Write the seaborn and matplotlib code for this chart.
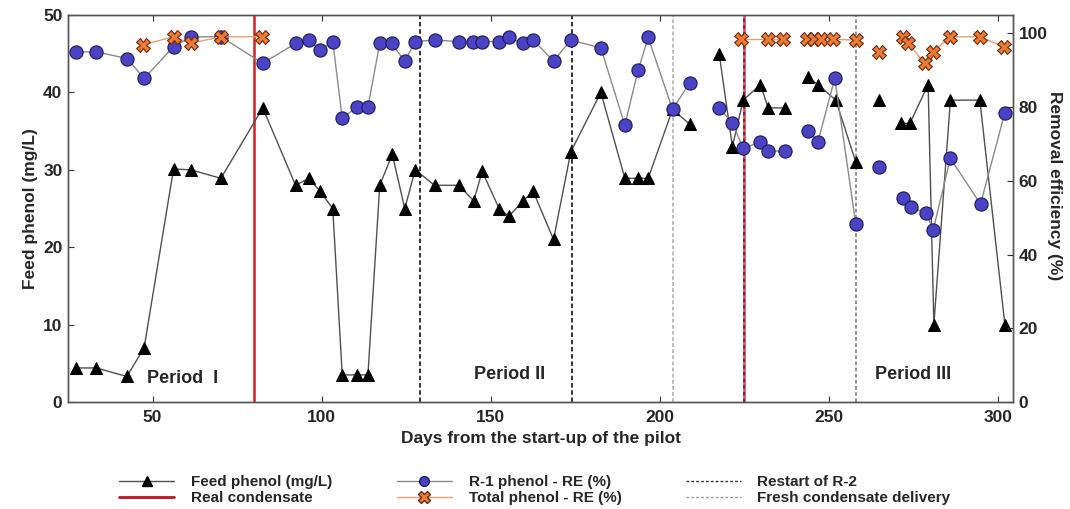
import numpy as np
import pandas as pd
import matplotlib
matplotlib.use("Agg")
import matplotlib.pyplot as plt
from matplotlib.lines import Line2D
import seaborn as sns

# ---------------- data ----------------
feed_days = [27.4, 33.3, 42.4, 47.5, 56.2, 61.3, 70.2, 82.6, 92.3, 96.2, 99.6, 103.3,
             106.1, 110.4, 113.7, 117.2, 120.9, 124.6, 127.7, 133.4, 140.5, 145.0, 147.5,
             152.5, 155.4, 159.6, 162.6, 168.6, 173.7, 182.6, 189.7, 193.6, 196.6, 203.8, 208.9,
             217.6, 221.5, 224.7, 229.8, 232.1, 237.0,
             243.9, 246.8, 252.1, 258.0,
             264.9,
             271.5, 274.0, 279.4, 281.1, 286.0, 294.7, 302.1]
feed_vals = [4.4, 4.4, 3.3, 7.0, 30.1, 30.0, 28.9, 38.0, 28.0, 28.9, 27.2, 25.0,
             3.5, 3.5, 3.5, 28.0, 32.0, 25.0, 30.0, 28.0, 28.0, 26.0, 29.8,
             25.0, 24.0, 26.0, 27.2, 21.0, 32.3, 40.0, 28.9, 28.9, 28.9, 37.8, 35.9,
             45.0, 33.0, 39.0, 41.0, 38.0, 38.0,
             42.0, 41.0, 39.0, 31.0,
             39.0,
             36.0, 36.0, 41.0, 10.0, 39.0, 39.0, 10.0]
feed_seg = [0] * 35 + [1] * 6 + [2] * 4 + [3] + [4] * 7

r1_days = [27.4, 33.3, 42.5, 47.5, 56.2, 61.3, 70.2, 82.6, 92.3, 96.2, 99.6, 103.3,
           106.1, 110.4, 113.7, 117.2, 120.7, 124.6, 127.7, 133.4, 140.5, 144.8, 147.5,
           152.5, 155.4, 159.6, 162.6, 168.6, 173.7, 182.6, 189.7, 193.6, 196.6, 203.8, 208.9,
           217.6, 221.5, 224.7, 229.8, 232.1, 237.0,
           243.9, 246.8, 251.8, 258.0,
           264.9,
           272.0, 274.2, 278.9, 280.9, 286.0, 294.9, 302.1]
r1_vals = [95.0, 95.0, 93.2, 87.8, 96.4, 99.1, 99.1, 91.9, 97.3, 98.2, 95.5, 97.8,
           77.0, 80.0, 80.0, 97.3, 97.3, 92.5, 97.8, 98.2, 97.8, 97.8, 97.8,
           97.8, 98.9, 97.3, 98.2, 92.5, 98.2, 96.1, 75.1, 90.0, 98.9, 79.4, 86.6,
           79.7, 75.8, 68.8, 70.6, 68.1, 68.1,
           73.5, 70.6, 87.8, 48.3,
           63.8,
           55.3, 52.8, 51.2, 46.7, 66.1, 53.7, 78.5]
r1_seg = [0] * 35 + [1] * 6 + [2] * 4 + [3] + [4] * 7

tot_days = [47.1, 56.2, 61.3, 70.2, 82.3,
            224.2, 231.9, 236.5,
            243.6, 245.7, 247.8, 251.3, 258.0,
            264.9,
            272.0, 273.5, 278.4, 280.9, 286.0, 294.7, 301.8]
tot_vals = [96.9, 99.1, 97.3, 99.1, 99.1,
            98.4, 98.4, 98.4,
            98.4, 98.4, 98.4, 98.4, 98.2,
            95.0,
            99.1, 97.3, 91.9, 95.0, 99.1, 99.1, 96.4]
tot_seg = [0] * 5 + [1] * 3 + [2] * 5 + [3] + [4] * 7

real_condensate_day = 80
restart_days = [129, 174]
fresh_days = [204, 258]
combined_day = 225

period_labels = ["Period  I", "Period II", "Period III"]
period_x = [59, 155.5, 275]
period_y = [3.1, 3.6, 3.6]

feed_df = pd.DataFrame({"day": feed_days, "val": feed_vals, "seg": feed_seg})
r1_df = pd.DataFrame({"day": r1_days, "val": r1_vals, "seg": r1_seg})
tot_df = pd.DataFrame({"day": tot_days, "val": tot_vals, "seg": tot_seg})

# ---------------- style ----------------
sns.set_theme(style="white")
plt.rcParams["font.family"] = ["Liberation Sans", "DejaVu Sans"]
plt.rcParams["font.weight"] = "bold"

fig = plt.figure(figsize=(10.7, 5.09), dpi=100)
ax = fig.add_axes([0.0636, 0.2102, 0.8831, 0.7603])
ax2 = ax.twinx()

blue_fill = "#4A44C4"
blue_edge = "#1C1A5A"
orange_fill = "#EE7A33"
orange_edge = "#6A2A10"

# vertical event lines
ax.axvline(real_condensate_day, color="#D42020", lw=1.8, zorder=1)
for d in restart_days:
    ax.axvline(d, color="#222222", lw=1.3, ls=(0, (2.5, 1.5)), zorder=1)
ax.axvline(fresh_days[0], color="#AAAAAA", lw=1.1, ls=(0, (2.5, 1.5)), zorder=1)
ax.axvline(fresh_days[1], color="#777777", lw=1.1, ls=(0, (2.5, 1.5)), zorder=1)
ax.axvline(combined_day, color="#E05060", lw=2.0, zorder=1)
ax.axvline(combined_day, color="#333333", lw=1.2, ls=(0, (2, 2)), zorder=1)

# feed phenol
sns.lineplot(data=feed_df, x="day", y="val", units="seg", estimator=None, sort=False,
             ax=ax, color="#505050", lw=1.0, marker="^", markersize=9,
             markerfacecolor="black", markeredgecolor="black", legend=False, zorder=3)

# R-1 RE
sns.lineplot(data=r1_df, x="day", y="val", units="seg", estimator=None, sort=False,
             ax=ax2, color="#8A8A8A", lw=1.0, marker="o", markersize=9.5,
             markerfacecolor=blue_fill, markeredgecolor=blue_edge, markeredgewidth=0.8,
             legend=False, zorder=3)

# Total RE
sns.lineplot(data=tot_df, x="day", y="val", units="seg", estimator=None, sort=False,
             ax=ax2, color="#E8A070", lw=1.0, marker="X", markersize=10,
             markerfacecolor=orange_fill, markeredgecolor=orange_edge, markeredgewidth=0.8,
             legend=False, zorder=4)

for lab, x, y in zip(period_labels, period_x, period_y):
    ax.text(x, y, lab, ha="center", va="center", fontsize=13, fontweight="bold")

# axes
ax.set_xlim(25, 304.5)
ax.set_ylim(0, 50)
ax2.set_ylim(0, 105)
ax.set_xticks([50, 100, 150, 200, 250, 300])
ax.set_yticks([0, 10, 20, 30, 40, 50])
ax2.set_yticks([0, 20, 40, 60, 80, 100])
ax.set_xlabel("Days from the start-up of the pilot", fontsize=12.5, fontweight="bold", labelpad=4)
ax.set_ylabel("Feed phenol (mg/L)", fontsize=12.5, fontweight="bold", labelpad=4)
ax2.set_ylabel("Removal efficiency (%)", fontsize=12.5, fontweight="bold", rotation=270, labelpad=16)
ax2.yaxis.set_label_coords(1.052, 0.56)

ax.tick_params(axis="x", direction="in", top=True, bottom=True, length=4, width=0.8,
               labelsize=12.5, pad=6, color="#333333")
ax.tick_params(axis="y", direction="in", left=True, right=False, length=4, width=0.8,
               labelsize=12.5, pad=4, color="#333333")
ax2.tick_params(axis="y", direction="in", right=True, length=4, width=0.8,
                labelsize=12.5, pad=4, color="#333333")
for a in (ax, ax2):
    for s in a.spines.values():
        s.set_color("#555555")
        s.set_linewidth(1.0)
    a.grid(False)

# legend
handles = [
    Line2D([], [], color="#505050", lw=1.0, marker="^", markersize=7,
           markerfacecolor="black", markeredgecolor="black"),
    Line2D([], [], color="#C01020", lw=2.0),
    Line2D([], [], color="#8A8A8A", lw=1.0, marker="o", markersize=7,
           markerfacecolor=blue_fill, markeredgecolor=blue_edge),
    Line2D([], [], color="#E8A070", lw=1.0, marker="X", markersize=8,
           markerfacecolor=orange_fill, markeredgecolor=orange_edge),
    Line2D([], [], color="#333333", lw=1.0, ls=(0, (2, 1.5))),
    Line2D([], [], color="#999999", lw=1.0, ls=(0, (2, 1.5))),
]
labels = ["Feed phenol (mg/L)", "Real condensate", "R-1 phenol - RE (%)",
          "Total phenol - RE (%)", "Restart of R-2", "Fresh condensate delivery"]
fig.legend(handles, labels, loc="center", bbox_to_anchor=(0.5, 0.037), ncol=3,
           frameon=False, handlelength=3.6, columnspacing=4.2,
           labelspacing=0.15, handletextpad=1.1,
           prop={"weight": "bold", "size": 11})

fig.savefig("out.png", dpi=100)
